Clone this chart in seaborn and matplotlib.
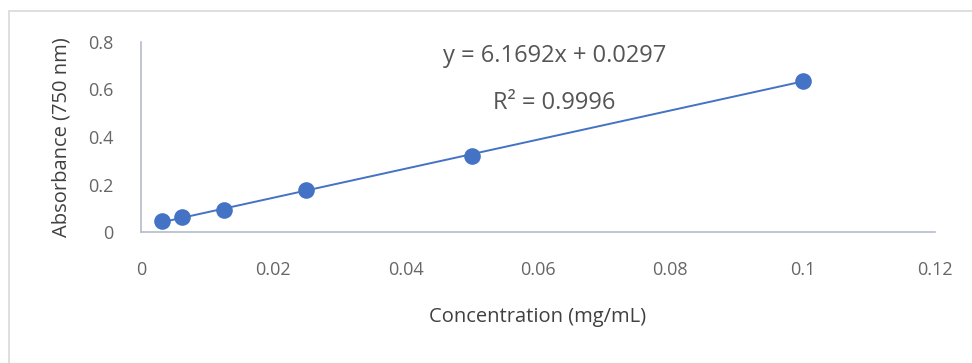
import numpy as np
import pandas as pd
import matplotlib
matplotlib.use("Agg")
import matplotlib.pyplot as plt
import seaborn as sns
from matplotlib.patches import Rectangle

concentration = [0.003125, 0.00625, 0.0125, 0.025, 0.05, 0.1]
absorbance = [0.046, 0.063, 0.092, 0.176, 0.322, 0.637]
x_ticks = [0, 0.02, 0.04, 0.06, 0.08, 0.1, 0.12]
x_ticklabels = ["0", "0.02", "0.04", "0.06", "0.08", "0.1", "0.12"]
y_ticks = [0, 0.2, 0.4, 0.6, 0.8]
y_ticklabels = ["0", "0.2", "0.4", "0.6", "0.8"]
equation_text = "y = 6.1692x + 0.0297"
r2_text = "R² = 0.9996"

sns.set_theme(style="white")
plt.rcParams['font.family'] = ['Open Sans', 'DejaVu Sans']

df = pd.DataFrame({"Concentration (mg/mL)": concentration,
                   "Absorbance (750 nm)": absorbance})

fig = plt.figure(figsize=(9.72, 3.63), dpi=100)
fig.patch.set_facecolor("white")
fig.add_artist(Rectangle((9/972, -0.05), 1.0, 1 - 11/363 + 0.05,
                         transform=fig.transFigure, fill=False,
                         edgecolor="#d9d9d9", linewidth=1.2))

ax = fig.add_axes([141/972, (363-232)/363, (935-141)/972, (232-42)/363])
blue = "#4472C4"
sns.regplot(data=df, x="Concentration (mg/mL)", y="Absorbance (750 nm)",
            ax=ax, ci=None, truncate=True,
            scatter_kws=dict(s=120, color=blue, edgecolor=blue, zorder=3, alpha=1),
            line_kws=dict(color=blue, linewidth=1.4, zorder=2))

ax.set_xlim(0, 0.12)
ax.set_ylim(0, 0.8)
ax.set_xticks(x_ticks)
ax.set_xticklabels(x_ticklabels)
ax.set_yticks(y_ticks)
ax.set_yticklabels(y_ticklabels)
ax.tick_params(axis="both", length=0, labelsize=13, labelcolor="#666666")
ax.tick_params(axis="x", pad=21)
ax.tick_params(axis="y", pad=20)
for s in ["top", "right"]:
    ax.spines[s].set_visible(False)
for s in ["left", "bottom"]:
    ax.spines[s].set_color("#b4bccb")
    ax.spines[s].set_linewidth(1.2)
ax.set_facecolor("white")
ax.grid(False)
for c in ax.collections:
    c.set_clip_on(False)

ax.set_xlabel("Concentration (mg/mL)", fontsize=14.5, color="#404040", labelpad=20)
ax.set_ylabel("Absorbance (750 nm)", fontsize=14.5, color="#404040", labelpad=12)

ax.text(0.0625, 0.74, equation_text, fontsize=17, color="#555555",
        ha="center", va="center")
ax.text(0.0625, 0.545, r2_text, fontsize=17, color="#555555",
        ha="center", va="center")

fig.savefig("out.png", dpi=100, facecolor="white")
